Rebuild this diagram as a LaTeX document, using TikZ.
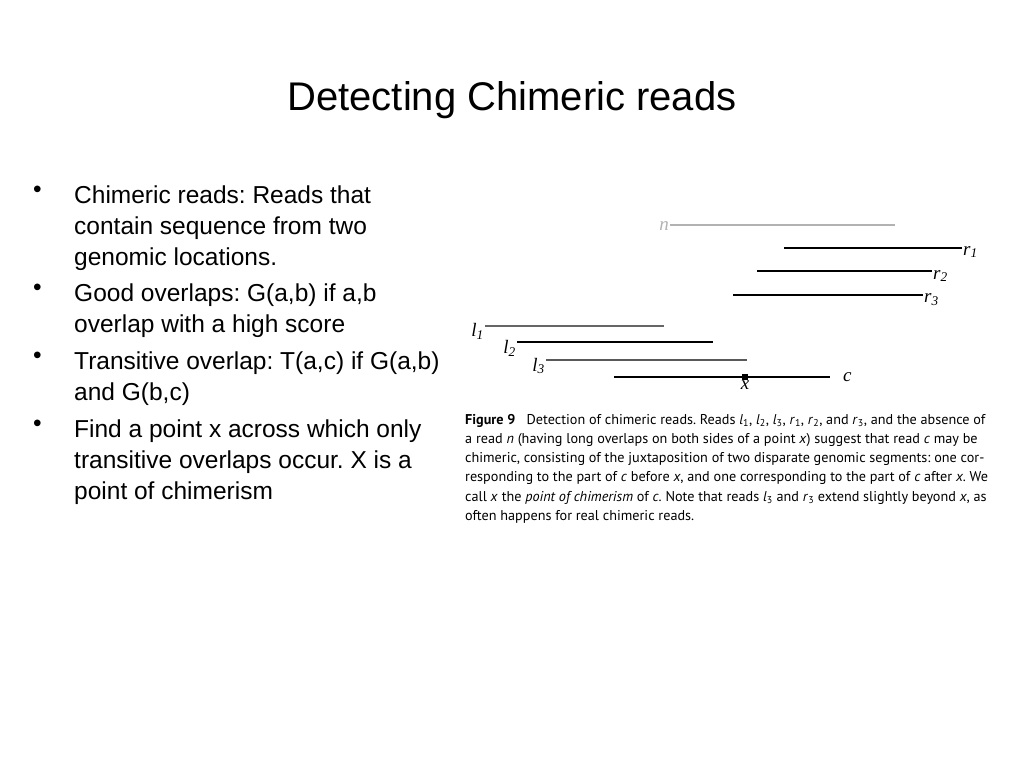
\documentclass[tikz,border=0pt]{standalone}
\usepackage{fontspec}
\setmainfont{Liberation Sans}
\newfontfamily\capfont{PT Sans}
\newfontfamily\serifl{Liberation Serif}
\frenchspacing
\begin{document}
\begin{tikzpicture}[x=1pt,y=-1pt,
  read/.style={line width=1.2pt},
  thickread/.style={line width=2.4pt},
  lab/.style={font=\serifl\itshape\fontsize{19}{19}\selectfont, inner sep=1pt},
  bul/.style={anchor=north west, align=left, inner sep=0pt, font=\fontsize{24.5}{31}\selectfont}]
\useasboundingbox (0,0) rectangle (1024,768);
\node (title) at (512,100) {\fontsize{40}{40}\selectfont Detecting Chimeric reads};
\foreach \y/\n in {186/b1,284/b2,352/b3,420/b4}{\node[bul] (\n) at (33,\y) {•};}
\node[bul] (t1) at (74,186) {Chimeric reads: Reads that\\contain sequence from two\\genomic locations.};
\node[bul] (t2) at (74,284) {Good overlaps: G(a,b) if a,b\\overlap with a high score};
\node[bul] (t3) at (74,352) {Transitive overlap: T(a,c) if G(a,b)\\and G(b,c)};
\node[bul] (t4) at (74,420) {Find a point x across which only\\transitive overlaps occur. X is a\\point of chimerism};
% reads
\draw[read,gray!60] (670,225) coordinate (n0) -- (895,225) coordinate (n1);
\node[lab,gray!60,anchor=east] (nl) at ([yshift=-1]n0) {n};
\draw[read] (784,248) -- (962,248) coordinate (r1e);
\node[lab,anchor=west] (r1) at ([yshift=-4]r1e) {r\textsubscript{1}};
\draw[read] (757,271) -- (932,271) coordinate (r2e);
\node[lab,anchor=west] (r2) at ([yshift=-5]r2e) {r\textsubscript{2}};
\draw[thickread] (733,295) -- (923,295) coordinate (r3e);
\node[lab,anchor=west] (r3) at ([yshift=-5]r3e) {r\textsubscript{3}};
\draw[read,gray!80!black] (485,326) coordinate (l1s) -- (664,326);
\node[lab,anchor=east] (l1) at ([yshift=-5]l1s) {l\textsubscript{1}};
\draw[thickread] (517,342) coordinate (l2s) -- (713,342);
\node[lab,anchor=east] (l2) at ([yshift=-6]l2s) {l\textsubscript{2}};
\draw[read,gray!70!black] (546,360) coordinate (l3s) -- (747,360);
\node[lab,anchor=east] (l3) at ([yshift=-6]l3s) {l\textsubscript{3}};
\draw[thickread] (614,377) -- (830,377) coordinate (ce);
\node[lab,anchor=west] (cl) at ([xshift=12]ce) {c};
\coordinate (xp) at (745,377);
\fill (xp) +(-3,-3) rectangle +(3,3);
\node[lab,anchor=north] (xl) at ([yshift=-3]xp) {x};
\node[anchor=north west,inner sep=0pt,align=left,font=\capfont\fontsize{14.2}{19.2}\selectfont] (cap) at (465,414)
{\textbf{Figure 9}\hspace{0.8em}Detection of chimeric reads. Reads \textit{l}\textsubscript{1}, \textit{l}\textsubscript{2}, \textit{l}\textsubscript{3}, \textit{r}\textsubscript{1}, \textit{r}\textsubscript{2}, and \textit{r}\textsubscript{3}, and the absence of\\
a read \textit{n} (having long overlaps on both sides of a point \textit{x}) suggest that read \textit{c} may be\\
chimeric, consisting of the juxtaposition of two disparate genomic segments: one cor-\\
responding to the part of \textit{c} before \textit{x}, and one corresponding to the part of \textit{c} after \textit{x}. We\\
call \textit{x} the \textit{point of chimerism} of \textit{c}. Note that reads \textit{l}\textsubscript{3} and \textit{r}\textsubscript{3} extend slightly beyond \textit{x}, as\\
often happens for real chimeric reads.};
\end{tikzpicture}
\end{document}
